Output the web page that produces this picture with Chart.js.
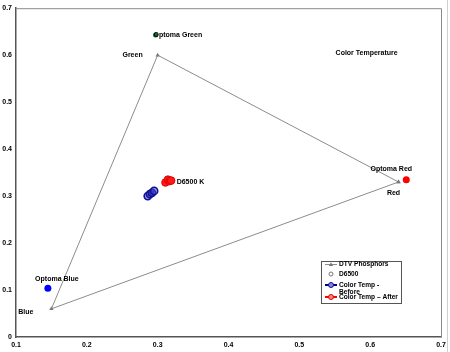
<!DOCTYPE html>
<html>
<head>
<meta charset="utf-8">
<script src="https://cdn.jsdelivr.net/npm/chart.js@4/dist/chart.umd.min.js"></script>
<style>
  html, body { margin: 0; padding: 0; background: #fff; }
  #wrap { width: 450px; height: 352px; }
</style>
</head>
<body>
<div id="wrap"><canvas id="cie" width="450" height="352"></canvas></div>
<script>
// valores
const xTicks = [0.1, 0.2, 0.3, 0.4, 0.5, 0.6, 0.7];
const yTicks = [0, 0.1, 0.2, 0.3, 0.4, 0.5, 0.6, 0.7];

const dtvX = [0.64, 0.30, 0.15, 0.64];
const dtvY = [0.33, 0.60, 0.06, 0.33];

const d6500X = [0.3127];
const d6500Y = [0.329];

const beforeX = [0.286, 0.289, 0.292, 0.295];
const beforeY = [0.300, 0.304, 0.307, 0.311];

const afterX = [0.311, 0.3145, 0.317, 0.319];
const afterY = [0.329, 0.335, 0.332, 0.333];

const optomaX = [0.651, 0.297, 0.145];
const optomaY = [0.335, 0.643, 0.104];
const optomaColors = ["#ff0000", "#0b6b35", "#0000ff"];

const pts = (xs, ys) => xs.map((x, i) => ({ x, y: ys[i] }));

const FONT = "Liberation Sans, Arial, sans-serif";

// rótulos dentro do gráfico (posições relativas ao ponto)
const pointLabels = [
    { ds: 0, i: 0, text: "Red", dx: -5, dy: 11, align: "center" },
    { ds: 0, i: 1, text: "Green", dx: -15, dy: 0, align: "right" },
    { ds: 0, i: 2, text: "Blue", dx: -18, dy: 3, align: "right" },
    { ds: 4, i: 0, text: "Optoma Red", dx: -15, dy: -11, align: "center" },
    { ds: 4, i: 1, text: "Optoma Green", dx: -2, dy: 0, align: "left" },
    { ds: 4, i: 2, text: "Optoma Blue", dx: 9, dy: -9, align: "center" },
    { ds: 1, i: 0, text: "D6500 K", dx: 10, dy: 0, align: "left" }
];

const extrasPlugin = {
    id: "extras",
    afterDatasetsDraw(chart) {
        const { ctx, chartArea: a } = chart;
        ctx.save();
        // moldura
        ctx.strokeStyle = "#8a8a8a";
        ctx.lineWidth = 1;
        ctx.beginPath();
        ctx.moveTo(a.left, a.top + 0.5);
        ctx.lineTo(a.right + 0.5, a.top + 0.5);
        ctx.lineTo(a.right + 0.5, a.bottom);
        ctx.stroke();
        ctx.strokeStyle = "#d0d0d0";
        ctx.beginPath();
        ctx.moveTo(447.5, 0);
        ctx.lineTo(447.5, 352);
        ctx.stroke();

        // rótulos
        ctx.fillStyle = "#000";
        ctx.font = "bold 7px " + FONT;
        ctx.textBaseline = "middle";
        pointLabels.forEach(l => {
            const el = chart.getDatasetMeta(l.ds).data[l.i];
            ctx.textAlign = l.align;
            ctx.fillText(l.text, el.x + l.dx, el.y + l.dy);
        });
        ctx.textAlign = "center";
        ctx.fillText("Color Temperature", a.left + (a.right - a.left) * 0.825, a.top + 45);

        // legenda
        const lx = 321, ly = 261, lw = 80, lh = 42;
        ctx.fillStyle = "#fff";
        ctx.fillRect(lx, ly, lw, lh);
        ctx.strokeStyle = "#555";
        ctx.lineWidth = 1;
        ctx.strokeRect(lx + 0.5, ly + 0.5, lw, lh);
        const rows = [
            { ds: 0, y: 264.5, text: ["DTV Phosphors"] },
            { ds: 1, y: 274, text: ["D6500"] },
            { ds: 2, y: 285, text: ["Color Temp -", "Before"] },
            { ds: 3, y: 297, text: ["Color Temp \u2013 After"] }
        ];
        ctx.font = "bold 6.6px " + FONT;
        ctx.textAlign = "left";
        rows.forEach(r => {
            const d = chart.data.datasets[r.ds];
            if (d.showLine) {
                ctx.strokeStyle = d.borderColor;
                ctx.lineWidth = d.borderWidth;
                ctx.beginPath();
                ctx.moveTo(325, r.y);
                ctx.lineTo(337, r.y);
                ctx.stroke();
            }
            ctx.fillStyle = d.legendFill;
            ctx.strokeStyle = d.pointBorderColor;
            ctx.lineWidth = 1;
            ctx.beginPath();
            if (d.pointStyle === "triangle") {
                ctx.moveTo(331, r.y - 2.2);
                ctx.lineTo(333.2, r.y + 1.6);
                ctx.lineTo(328.8, r.y + 1.6);
                ctx.closePath();
                ctx.fill();
            } else {
                ctx.arc(331, r.y, d.legendRadius, 0, Math.PI * 2);
                ctx.fill();
                ctx.stroke();
            }
            ctx.fillStyle = "#000";
            r.text.forEach((t, k) => ctx.fillText(t, 339, r.y + k * 7));
        });
        ctx.restore();
    }
};

new Chart(document.getElementById("cie"), {
    type: "scatter",
    data: {
        datasets: [
            {
                label: "DTV Phosphors",
                data: pts(dtvX, dtvY),
                showLine: true,
                borderColor: "#8c8c8c",
                borderWidth: 1,
                pointStyle: "triangle",
                pointRadius: 2.5,
                pointBackgroundColor: "#7a7a7a",
                pointBorderColor: "#7a7a7a",
                pointBorderWidth: 0,
                legendFill: "#7a7a7a",
                legendRadius: 2
            },
            {
                label: "D6500",
                data: pts(d6500X, d6500Y),
                showLine: false,
                pointStyle: "circle",
                pointRadius: 2,
                pointBackgroundColor: "#fff",
                pointBorderColor: "#777",
                pointBorderWidth: 1,
                legendFill: "#fff",
                legendRadius: 2
            },
            {
                label: "Color Temp - Before",
                data: pts(beforeX, beforeY),
                showLine: true,
                borderColor: "#000090",
                borderWidth: 2,
                pointStyle: "circle",
                pointRadius: 3.6,
                pointBackgroundColor: "rgba(60,70,190,0.55)",
                pointBorderColor: "#10109a",
                pointBorderWidth: 1.6,
                legendFill: "#8088d8",
                legendRadius: 2.5
            },
            {
                label: "Color Temp - After",
                data: pts(afterX, afterY),
                showLine: true,
                order: -1,
                borderColor: "#ff0000",
                borderWidth: 2,
                pointStyle: "circle",
                pointRadius: 3.8,
                pointBackgroundColor: "#ff1a1a",
                pointBorderColor: "#e00000",
                pointBorderWidth: 1,
                legendFill: "#ff8080",
                legendRadius: 2.5
            },
            {
                label: "Optoma",
                data: pts(optomaX, optomaY),
                showLine: false,
                pointStyle: "circle",
                pointRadius: [3.5, 2.5, 3.5],
                pointBackgroundColor: optomaColors,
                pointBorderColor: optomaColors,
                pointBorderWidth: 0
            }
        ]
    },
    options: {
        responsive: false,
        animation: false,
        layout: { padding: { top: 7, right: 9, left: 0, bottom: 0 } },
        plugins: {
            legend: { display: false },
            tooltip: { enabled: false }
        },
        scales: {
            x: {
                type: "linear",
                min: 0.1,
                max: 0.7,
                afterBuildTicks: s => { s.ticks = xTicks.map(v => ({ value: v })); },
                afterFit: s => { s.height = 15; },
                grid: { display: false, drawTicks: false },
                border: { display: true, color: "#555", width: 1.5 },
                ticks: {
                    padding: 4,
                    color: "#000",
                    font: { family: FONT, size: 7, weight: "bold" },
                    callback: v => String(Math.round(v * 10) / 10)
                }
            },
            y: {
                type: "linear",
                min: 0,
                max: 0.7,
                afterBuildTicks: s => { s.ticks = yTicks.map(v => ({ value: v })); },
                afterFit: s => { s.width = 16; },
                grid: { display: false, drawTicks: false },
                border: { display: true, color: "#555", width: 1.5 },
                ticks: {
                    padding: 4,
                    color: "#000",
                    font: { family: FONT, size: 7, weight: "bold" },
                    callback: v => String(Math.round(v * 10) / 10)
                }
            }
        }
    },
    plugins: [extrasPlugin]
});
</script>
</body>
</html>
